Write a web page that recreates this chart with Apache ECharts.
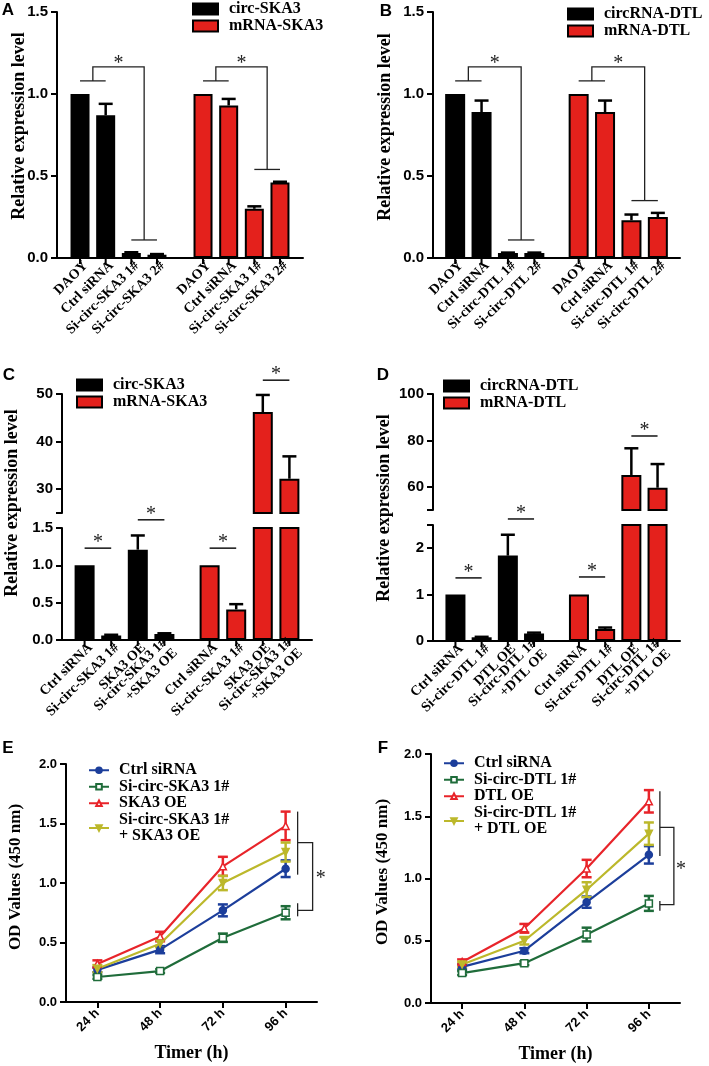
<!DOCTYPE html>
<html>
<head>
<meta charset="utf-8">
<script src="https://cdn.jsdelivr.net/npm/echarts@6/dist/echarts.min.js"></script>
<style>
  html, body { margin: 0; padding: 0; background: #fff; }
  #chart { width: 709px; height: 1066px; }
</style>
</head>
<body>
<div id="chart"></div>
<script>
// ---- data ----
// A: knockdown of circ-SKA3
const groupsA = ['circ-SKA3', 'mRNA-SKA3'];
const condsA = ['DAOY', 'Ctrl siRNA', 'Si-circ-SKA3 1#', 'Si-circ-SKA3 2#'];
const circA = [1.0, 0.87, 0.03, 0.02];
const circErrA = [0, 0.07, 0.005, 0.004];
const mrnaA = [1.0, 0.93, 0.30, 0.46];
const mrnaErrA = [0, 0.04, 0.015, 0.005];

// B: knockdown of circRNA-DTL
const groupsB = ['circRNA-DTL', 'mRNA-DTL'];
const condsB = ['DAOY', 'Ctrl siRNA', 'Si-circ-DTL 1#', 'Si-circ-DTL 2#'];
const circB = [1.0, 0.89, 0.03, 0.03];
const circErrB = [0, 0.07, 0.003, 0.003];
const mrnaB = [1.0, 0.89, 0.23, 0.25];
const mrnaErrB = [0, 0.07, 0.035, 0.025];

// C: SKA3 rescue
const condsC = ['Ctrl siRNA', 'Si-circ-SKA3 1#', 'SKA3 OE', 'Si-circ-SKA3 1#\n+SKA3 OE'];
const circC = [1.0, 0.06, 1.21, 0.08];
const circErrC = [0, 0.01, 0.19, 0.01];
const mrnaC = [1.0, 0.41, 46.2, 32.2];
const mrnaErrC = [0, 0.07, 3.6, 4.7];

// D: DTL rescue
const condsD = ['Ctrl siRNA', 'Si-circ-DTL 1#', 'DTL OE', 'Si-circ-DTL 1#\n+DTL OE'];
const circD = [1.0, 0.08, 1.84, 0.16];
const circErrD = [0, 0.01, 0.45, 0.02];
const mrnaD = [1.0, 0.26, 65.1, 59.6];
const mrnaErrD = [0, 0.03, 11.5, 10.2];

// E / F: CCK-8 growth curves
const timeCats = ['24 h', '48 h', '72 h', '96 h'];
const namesE = ['Ctrl siRNA', 'Si-circ-SKA3 1#', 'SKA3 OE', 'Si-circ-SKA3 1#\n+ SKA3 OE'];
const ctrlE = [0.27, 0.44, 0.77, 1.12];
const ctrlErrE = [0.02, 0.03, 0.05, 0.07];
const siE = [0.21, 0.26, 0.54, 0.75];
const siErrE = [0.015, 0.015, 0.035, 0.055];
const oeE = [0.32, 0.55, 1.14, 1.48];
const oeErrE = [0.03, 0.04, 0.08, 0.12];
const siOeE = [0.28, 0.49, 1.0, 1.26];
const siOeErrE = [0.03, 0.03, 0.06, 0.08];

const namesF = ['Ctrl siRNA', 'Si-circ-DTL 1#', 'DTL OE', 'Si-circ-DTL 1#\n+ DTL OE'];
const ctrlF = [0.29, 0.42, 0.81, 1.19];
const ctrlErrF = [0.02, 0.02, 0.045, 0.07];
const siF = [0.24, 0.32, 0.55, 0.80];
const siErrF = [0.015, 0.015, 0.055, 0.06];
const oeF = [0.33, 0.60, 1.08, 1.62];
const oeErrF = [0.02, 0.035, 0.07, 0.09];
const siOeF = [0.31, 0.50, 0.91, 1.36];
const siOeErrF = [0.02, 0.03, 0.06, 0.09];

// ---- styling ----
const SANS = 'Liberation Sans';
const SERIF = 'Liberation Serif';
const RED = '#e4211c';
const lineColors = ['#1c3e9b', '#1f6c3a', '#e8242a', '#bcb82b'];

const chart = echarts.init(document.getElementById('chart'), null, { width: 709, height: 1066 });

const grids = [], xAxes = [], yAxes = [], series = [], legends = [];

function yAx(gi, min, max, p) {
  const ax = {
    gridIndex: gi, type: 'value', min: min, max: max,
    axisLine: { show: true, lineStyle: { color: '#000', width: 2 } },
    axisTick: { show: true, length: 6, lineStyle: { color: '#000', width: 2 } },
    splitLine: { show: false },
    axisLabel: { color: '#000', fontFamily: SANS, fontWeight: 'bold', fontSize: p.fs || 15, margin: 9, formatter: p.fmt }
  };
  if (p.interval) ax.interval = p.interval;
  if (p.ticks) {
    ax.axisTick.customValues = p.ticks;
    ax.axisLabel.customValues = p.labels;
  }
  return ax;
}

// one bar grid: categories are the two RNA groups, one bar series per condition
function addBarGrid(rect, groups, conds, circ, mrna, circErr, mrnaErr, bw, gap, yopt, lower) {
  const gi = grids.length;
  grids.push(Object.assign({ outerBoundsMode: 'none', containLabel: false }, rect));
  xAxes.push({
    gridIndex: gi, type: 'category', data: groups, show: lower,
    axisLine: { show: true, onZero: false, lineStyle: { color: '#000', width: 2 } },
    axisTick: { show: false }, axisLabel: { show: false }
  });
  yAxes.push(yAx(gi, yopt.min, yopt.max, yopt));
  conds.forEach(function (c, k) {
    series.push({
      type: 'bar', name: 'g' + gi + ' ' + c, xAxisIndex: gi, yAxisIndex: gi,
      barWidth: bw, barGap: Math.round(gap * 100) + '%',
      silent: true,
      itemStyle: { borderColor: '#000', borderWidth: 2 },
      label: lower ? {
        show: true, formatter: c, position: ['50%', '100%'], offset: [0, 8],
        rotate: 45, align: 'right', verticalAlign: 'middle',
        fontFamily: SERIF, fontWeight: 'bold', fontSize: 14, color: '#000', lineHeight: 15
      } : { show: false },
      data: [
        { value: circ[k], itemStyle: { color: '#000' } },
        { value: mrna[k], itemStyle: { color: RED } }
      ]
    });
  });
  // upward error bars (+ tick marks under each bar on the lower axis)
  const errData = [];
  [circ, mrna].forEach(function (arr, g) {
    arr.forEach(function (v, k) { errData.push([g, v, (g ? mrnaErr : circErr)[k], k]); });
  });
  series.push({
    type: 'custom', xAxisIndex: gi, yAxisIndex: gi, silent: true, z: 5,
    data: errData,
    renderItem: function (params, api) {
      const g = api.value(0), v = api.value(1), e = api.value(2), k = api.value(3);
      const cs = params.coordSys;
      const x = api.coord([g, v])[0] + (k - 1.5) * bw * (1 + gap);
      const children = [];
      if (lower) {
        const yb = cs.y + cs.height;
        children.push({ type: 'line', shape: { x1: x, y1: yb, x2: x, y2: yb + 6 }, style: { stroke: '#000', lineWidth: 2 } });
      }
      const y0 = api.coord([g, v])[1], y1 = api.coord([g, v + e])[1];
      if (e > 0 && y0 >= cs.y - 0.5 && y0 <= cs.y + cs.height + 0.5) {
        const s = { stroke: '#000', lineWidth: 2.5 };
        children.push({ type: 'line', shape: { x1: x, y1: y0, x2: x, y2: y1 }, style: s });
        children.push({ type: 'line', shape: { x1: x - 7, y1: y1, x2: x + 7, y2: y1 }, style: s });
      }
      return { type: 'group', children: children };
    }
  });
  return gi;
}

function barLegend(left, top, names) {
  names.forEach(function (n) {
    series.push({ type: 'line', name: n, data: [], xAxisIndex: 0, yAxisIndex: 0 });
  });
  legends.push({
    left: left, top: top, padding: 0, orient: 'vertical', itemWidth: 25, itemHeight: 11, itemGap: 1,
    icon: 'rect', selectedMode: false,
    textStyle: { fontFamily: SERIF, fontWeight: 'bold', fontSize: 16, color: '#000', padding: [0, 0, 0, 6] },
    data: [
      { name: names[0], itemStyle: { color: '#000', borderColor: '#000', borderWidth: 2 } },
      { name: names[1], itemStyle: { color: RED, borderColor: '#000', borderWidth: 2 } }
    ]
  });
}

function addLineGrid(rect, names, vals, errs, legendPos) {
  const gi = grids.length;
  grids.push(Object.assign({ outerBoundsMode: 'none', containLabel: false }, rect));
  xAxes.push({
    gridIndex: gi, type: 'category', data: timeCats,
    name: 'Timer (h)', nameLocation: 'middle', nameGap: 42,
    nameTextStyle: { fontFamily: SERIF, fontWeight: 'bold', fontSize: 18, color: '#000' },
    axisLine: { show: true, onZero: false, lineStyle: { color: '#000', width: 2 } },
    axisTick: { show: true, alignWithLabel: true, length: 6, lineStyle: { color: '#000', width: 2 } },
    axisLabel: { rotate: 45, margin: 9, color: '#000', fontFamily: SANS, fontWeight: 'bold', fontSize: 13 }
  });
  yAxes.push(yAx(gi, 0, 2, { interval: 0.5, fs: 13, fmt: function (v) { return v.toFixed(1); } }));
  const syms = ['circle', 'rect', 'triangle', 'triangle'];
  const filled = [true, false, false, true];
  names.forEach(function (n, i) {
    const col = lineColors[i];
    series.push({
      type: 'line', name: n, xAxisIndex: gi, yAxisIndex: gi, data: vals[i],
      symbol: syms[i], symbolSize: 7, symbolRotate: i === 3 ? 180 : 0, z: 4,
      lineStyle: { color: col, width: 2.2 },
      itemStyle: { color: filled[i] ? col : '#fff', borderColor: col, borderWidth: 1.5 },
      silent: true
    });
    const e = errs[i];
    series.push({
      type: 'custom', xAxisIndex: gi, yAxisIndex: gi, silent: true, z: 3,
      data: vals[i].map(function (v, j) { return [j, v, e[j]]; }),
      renderItem: function (params, api) {
        const x = api.coord([api.value(0), api.value(1)])[0];
        const v = api.value(1), d = api.value(2);
        const yt = api.coord([0, v + d])[1], yb = api.coord([0, v - d])[1];
        const s = { stroke: col, lineWidth: 2.5 };
        return {
          type: 'group', children: [
            { type: 'line', shape: { x1: x, y1: yt, x2: x, y2: yb }, style: s },
            { type: 'line', shape: { x1: x - 5, y1: yt, x2: x + 5, y2: yt }, style: s },
            { type: 'line', shape: { x1: x - 5, y1: yb, x2: x + 5, y2: yb }, style: s }
          ]
        };
      }
    });
  });
  legends.push({
    left: legendPos[0], top: legendPos[1], padding: 0, orient: 'vertical', itemWidth: 20, itemHeight: 7, itemGap: 0,
    selectedMode: false,
    textStyle: { fontFamily: SERIF, fontWeight: 'bold', fontSize: 16, color: '#000', padding: [0, 0, 0, 5], lineHeight: 16.5 },
    data: names
  });
  return gi;
}

// ---- build panels ----
const fmt1 = function (v) { return v.toFixed(1); };
const fmt0 = function (v) { return String(v); };

const gA = addBarGrid({ left: 57, top: 12, width: 246, height: 246 }, groupsA, condsA, circA, mrnaA, circErrA, mrnaErrA,
  19, 0.35, { min: 0, max: 1.5, interval: 0.5, fmt: fmt1 }, true);
const gB = addBarGrid({ left: 433, top: 12, width: 247, height: 246 }, groupsB, condsB, circB, mrnaB, circErrB, mrnaErrB,
  20, 0.32, { min: 0, max: 1.5, interval: 0.5, fmt: fmt1 }, true);
const gCu = addBarGrid({ left: 62, top: 394, width: 250, height: 119 }, groupsA, condsC, circC, mrnaC, circErrC, mrnaErrC,
  20, 0.33, { min: 25, max: 50, ticks: [25, 30, 40, 50], labels: [30, 40, 50], fmt: fmt0 }, false);
const gCl = addBarGrid({ left: 62, top: 528, width: 250, height: 112 }, groupsA, condsC, circC, mrnaC, circErrC, mrnaErrC,
  20, 0.33, { min: 0, max: 1.5, interval: 0.5, fmt: fmt1 }, true);
const gDu = addBarGrid({ left: 433, top: 394, width: 247, height: 116 }, groupsB, condsD, circD, mrnaD, circErrD, mrnaErrD,
  20, 0.31, { min: 50, max: 100, ticks: [50, 60, 80, 100], labels: [60, 80, 100], fmt: fmt0 }, false);
const gDl = addBarGrid({ left: 433, top: 525, width: 247, height: 116 }, groupsB, condsD, circD, mrnaD, circErrD, mrnaErrD,
  20, 0.31, { min: 0, max: 2.5, ticks: [0, 1, 2, 2.5], labels: [0, 1, 2], fmt: fmt0 }, true);

barLegend(192, 1, groupsA);
barLegend(567, 6, groupsB);
barLegend(76, 377, groupsA);
barLegend(443, 378, groupsB);

const gE = addLineGrid({ left: 66, top: 764, width: 251, height: 238 }, namesE,
  [ctrlE, siE, oeE, siOeE], [ctrlErrE, siErrE, oeErrE, siOeErrE], [88, 762]);
const gF = addLineGrid({ left: 431, top: 754, width: 249, height: 249 }, namesF,
  [ctrlF, siF, oeF, siOeF], [ctrlErrF, siErrF, oeErrF, siOeErrF], [443, 755]);

chart.setOption({
  animation: false,
  backgroundColor: '#fff',
  textStyle: { fontFamily: SANS },
  grid: grids, xAxis: xAxes, yAxis: yAxes, legend: legends, series: series
});

// ---- annotations: panel letters, axis titles, significance brackets ----
const G = [];
function txt(x, y, s, font, rot) {
  G.push({ type: 'text', x: x, y: y, rotation: rot || 0, silent: true,
    style: { text: s, font: font, fill: '#000', align: 'center', verticalAlign: 'middle' } });
}
function seg(pts, w) {
  G.push({ type: 'polyline', silent: true, shape: { points: pts }, style: { stroke: '#222', lineWidth: w || 1.3, fill: null } });
}
function star(x, y) {
  G.push({ type: 'text', x: x, y: y, silent: true,
    style: { text: '*', font: '20px "Liberation Serif"', fill: '#222', align: 'center', verticalAlign: 'middle' } });
}
function bx(gi, g, k, bw, gap) { return chart.convertToPixel({ xAxisIndex: gi }, g) + (k - 1.5) * bw * (1 + gap); }
function by(gi, v) { return chart.convertToPixel({ yAxisIndex: gi }, v); }

const letterFont = 'bold 17px "Liberation Sans"';
txt(8, 10, 'A', letterFont); txt(386, 11, 'B', letterFont);
txt(9, 375, 'C', letterFont); txt(383, 375, 'D', letterFont);
txt(8, 748, 'E', letterFont); txt(383, 748, 'F', letterFont);

const titleFont = 'bold 18px "Liberation Serif"';
txt(19, 126, 'Relative expression level', titleFont, Math.PI / 2);
txt(385, 127, 'Relative expression level', titleFont, Math.PI / 2);
txt(12, 503, 'Relative expression level', titleFont, Math.PI / 2);
txt(384, 508, 'Relative expression level', titleFont, Math.PI / 2);
const odFont = 'bold 17px "Liberation Serif"';
txt(16, 877, 'OD Values (450 nm)', odFont, Math.PI / 2);
txt(383, 872, 'OD Values (450 nm)', odFont, Math.PI / 2);

function bigBracket(gi, g, bw, gap, yPair, yTop, yRight) {
  const x0 = bx(gi, g, 0, bw, gap), x1 = bx(gi, g, 1, bw, gap);
  const x2 = bx(gi, g, 2, bw, gap), x3 = bx(gi, g, 3, bw, gap);
  const m1 = (x0 + x1) / 2, m2 = (x2 + x3) / 2;
  seg([[x0, by(gi, yPair)], [x1, by(gi, yPair)]]);
  seg([[m1, by(gi, yPair)], [m1, by(gi, yTop)], [m2, by(gi, yTop)], [m2, by(gi, yRight)]]);
  seg([[x2, by(gi, yRight)], [x3, by(gi, yRight)]]);
  star((m1 + m2) / 2, by(gi, yTop) - 3);
}
bigBracket(gA, 0, 19, 0.35, 1.08, 1.165, 0.11);
bigBracket(gA, 1, 19, 0.35, 1.08, 1.165, 0.54);
bigBracket(gB, 0, 20, 0.32, 1.08, 1.165, 0.11);
bigBracket(gB, 1, 20, 0.32, 1.08, 1.165, 0.35);

function pair(gi, g, k1, k2, bw, gap, v) {
  const xa = bx(gi, g, k1, bw, gap), xb = bx(gi, g, k2, bw, gap), y = by(gi, v);
  seg([[xa, y], [xb, y]], 1.6);
  star((xa + xb) / 2, y - 5);
}
pair(gCl, 0, 0, 1, 20, 0.33, 1.23);
pair(gCl, 0, 2, 3, 20, 0.33, 1.61);
pair(gCl, 1, 0, 1, 20, 0.33, 1.23);
pair(gCu, 1, 2, 3, 20, 0.33, 52.9);
pair(gDl, 0, 0, 1, 20, 0.31, 1.36);
pair(gDl, 0, 2, 3, 20, 0.31, 2.63);
pair(gDl, 1, 0, 1, 20, 0.31, 1.38);
pair(gDu, 1, 2, 3, 20, 0.31, 81.9);

function curveBracket(gi, d1, d2, top, bottom, mid, low, lowTop, lowBot, starY, sx) {
  const cx = chart.convertToPixel({ xAxisIndex: gi }, 3);
  const xa = cx + d1, xb = cx + d2;
  seg([[xa, by(gi, top)], [xa, by(gi, bottom)]]);
  seg([[xa, by(gi, mid)], [xb, by(gi, mid)], [xb, by(gi, low)], [xa, by(gi, low)]]);
  seg([[xa, by(gi, lowTop)], [xa, by(gi, lowBot)]]);
  star(cx + sx, by(gi, starY) + 2);
}
curveBracket(gE, 12, 27, 1.6, 1.07, 1.34, 0.77, 0.83, 0.72, 1.05, 35);
curveBracket(gF, 11, 25, 1.70, 1.18, 1.41, 0.79, 0.82, 0.74, 1.09, 32);

chart.setOption({ graphic: G });
</script>
</body>
</html>
